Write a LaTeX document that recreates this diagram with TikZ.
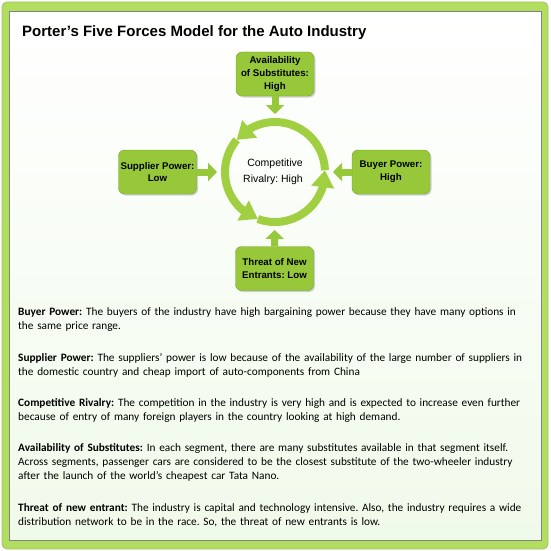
\documentclass[tikz,border=0pt]{standalone}
\usepackage{fontspec}
\setmainfont{Carlito}
\newfontfamily\arialfont{Liberation Sans}
\usetikzlibrary{arrows.meta,bending,positioning,shadows}
\frenchspacing
\definecolor{FrameGreen}{RGB}{178,222,96}
\definecolor{FrameEdge} {RGB}{120,170,50}
\definecolor{BoxGreen}  {RGB}{150,200,58}
\definecolor{RingGreen} {RGB}{160,208,66}
\definecolor{PaleGreen} {RGB}{240,250,234}
\definecolor{EdgeGrey}  {RGB}{130,130,130}
\tikzset{
  force/.style={
    rectangle, rounded corners=6pt,
    fill=BoxGreen, draw=BoxGreen!80!black, line width=0.4pt,
    minimum width=78pt, minimum height=44pt,
    align=center, inner sep=2pt,
    font=\arialfont\bfseries\fontsize{9.7}{12.7}\selectfont,
    drop shadow={opacity=0.35, shadow xshift=1.5pt, shadow yshift=-1.5pt}
  },
  push/.style={-{Triangle[length=9pt,width=18pt]},
               line width=7pt, color=BoxGreen, shorten >=4pt},
  cyclearrow/.style={-{Triangle[length=17pt,width=22pt]},
                     line width=8pt, color=RingGreen},
  note/.style={anchor=base west, inner sep=0pt, text width=520pt, align=left,
               font=\fontsize{11.3}{14}\selectfont}
}

\begin{document}
\begin{tikzpicture}[x=1pt,y=1pt]
  \useasboundingbox (0,0) rectangle (550,-551);
  % frame and panel
  \fill[FrameGreen, draw=FrameEdge!70, line width=0.8pt, rounded corners=5pt]
       (2,-2) rectangle (548,-549);
  \shade[top color=white, bottom color=PaleGreen, draw=EdgeGrey, line width=0.6pt]
       (9.5,-11.5) rectangle (541,-540);

  \node[anchor=base west, inner sep=0pt,
        font=\arialfont\bfseries\fontsize{15}{18}\selectfont]
        (title) at (22,-37) {Porter’s Five Forces Model for the Auto Industry};

  % rivalry ring
  \node[circle, minimum size=108pt, inner sep=0pt, outer sep=0pt, align=center,
        font=\arialfont\fontsize{10.5}{15.5}\selectfont]
        (rivalry) at (275,-172) {Competitive\\Rivalry: High\hspace*{4pt}};
  \foreach \s/\e in {2/140, 140/250, 250/362}
    \draw[cyclearrow] (rivalry.center) ++(\s:50)
          arc[start angle=\s, end angle=\e, radius=50];

  % the four forces
  \node[force] (subst)   at (275,-74)    {Availability\\of Substitutes:\\High};
  \node[force] (supply)  at (157.5,-172) {Supplier Power:\\Low};
  \node[force] (buyer)   at (391,-172)   {Buyer Power:\\High};
  \node[force] (entrant) at (274.5,-268.5) {Threat of New\\Entrants: Low};

  \foreach \f in {subst, supply, buyer, entrant}
    \draw[push] (\f) -- (rivalry);

  % notes
  \node[note] (nbuyer) at (18,-315)
    {\textbf{Buyer Power:} The buyers of the industry have high bargaining power because they have many options in\\
     the same price range.};
  \node[note] (nsupply) at (18,-361)
    {\textbf{Supplier Power:} The suppliers’ power is low because of the availability of the large number of suppliers in\\
     the domestic country and cheap import of auto-components from China};
  \node[note] (nrival) at (18,-406)
    {\textbf{Competitive Rivalry:} The competition in the industry is very high and is expected to increase even further\\
     because of entry of many foreign players in the country looking at high demand.};
  \node[note] (nsubst) at (18,-451)
    {\textbf{Availability of Substitutes:} In each segment, there are many substitutes available in that segment itself.\\
     Across segments, passenger cars are considered to be the closest substitute of the two-wheeler industry\\
     after the launch of the world’s cheapest car Tata Nano.};
  \node[note] (nentrant) at (18,-511)
    {\textbf{Threat of new entrant:} The industry is capital and technology intensive. Also, the industry requires a wide\\
     distribution network to be in the race. So, the threat of new entrants is low.};
\end{tikzpicture}
\end{document}
